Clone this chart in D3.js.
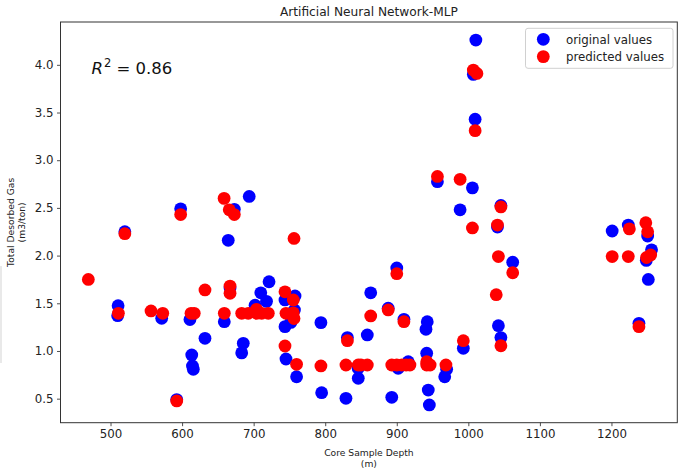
<!DOCTYPE html>
<html>
<head>
<meta charset="utf-8">
<script src="https://cdn.jsdelivr.net/npm/d3@7"></script>
<style>
  html, body { margin: 0; padding: 0; background: #fff; }
  svg { display: block; font-family: "DejaVu Sans", sans-serif; }
</style>
</head>
<body>
<svg id="chart" width="679" height="470"></svg>
<script>
// Measured core samples: depth (m) and total desorbed gas (m3/ton)
const originalDepth = [510.6, 510, 520, 571.5, 592.5, 598, 611, 613.5, 614.5, 615.7,
  632, 659, 664.5, 667, 673, 683.3, 685.5, 693.8, 702, 710,
  718, 721.5, 743.8, 743.8, 745.2, 752, 757, 757.8, 760, 794,
  795, 829, 831, 846.2, 846, 858.8, 863.6, 888, 893, 900,
  902, 910, 916, 940.8, 942.6, 941.8, 944, 945.5, 956.8, 967,
  969.7, 988.5, 993, 1005.7, 1007, 1009.5, 1010.5, 1040.7, 1042, 1045.5,
  1045.5, 1062, 1201, 1223.5, 1238.4, 1248.7, 1250.6, 1251.5, 1256];
const originalValue = [1.475, 1.37, 2.25, 1.343, 0.49, 2.49, 1.33, 0.958, 0.843, 0.808,
  1.133, 1.307, 2.16, 1.66, 2.485, 0.98, 1.08, 2.62, 1.48, 1.61,
  1.52, 1.726, 1.535, 1.255, 0.916, 1.30, 1.43, 1.577, 0.73, 1.297,
  0.563, 0.504, 1.14, 0.714, 0.82, 1.168, 1.61, 1.448, 0.514, 1.87,
  0.818, 1.332, 0.888, 1.227, 1.307, 0.976, 0.59, 0.434, 2.775, 0.73,
  0.808, 2.48, 1.028, 2.71, 3.90, 3.43, 4.26, 2.30, 1.265, 1.14,
  2.525, 1.93, 2.258, 2.32, 1.29, 1.95, 2.205, 1.75, 2.06];

// MLP predictions for the same samples
const predictedDepth = [469, 511, 520, 556.6, 573, 592.5, 598, 612.5, 617, 632,
  658.7, 659, 665.9, 667, 667, 673, 683.3, 692.5, 704.2, 704,
  711.2, 720.5, 743.8, 745.2, 743.8, 755.4, 755.4, 756.4, 756.4, 760,
  794, 829, 831, 846.2, 850, 858.8, 863.6, 888, 893, 900,
  900, 907, 910, 913, 918.4, 941.8, 941.8, 946.6, 956.8, 968.7,
  988.5, 993, 1005.7, 1007, 1012, 1009.5, 1039, 1040.7, 1042, 1045.5,
  1045.5, 1062, 1201, 1223.5, 1225, 1238.4, 1248, 1250.6, 1249, 1254.8];
const predictedValue = [1.75, 1.395, 2.23, 1.42, 1.395, 0.476, 2.43, 1.395, 1.395, 1.64,
  2.60, 1.395, 2.48, 1.68, 1.605, 2.43, 1.395, 1.395, 1.395, 1.437,
  1.395, 1.395, 1.62, 1.395, 1.052, 1.535, 1.40, 1.34, 2.18, 0.86,
  0.843, 0.853, 1.108, 0.853, 0.853, 0.853, 1.367, 1.43, 0.853, 1.81,
  0.853, 0.853, 1.307, 0.853, 0.853, 0.853, 0.888, 0.853, 2.83, 0.853,
  2.80, 1.108, 2.29, 3.945, 3.91, 3.31, 1.59, 2.32, 1.99, 2.51,
  1.055, 1.82, 1.99, 1.99, 2.28, 1.255, 2.345, 2.25, 1.98, 2.006];

const xTicks = [500, 600, 700, 800, 900, 1000, 1100, 1200];
const yTicks = [0.5, 1.0, 1.5, 2.0, 2.5, 3.0, 3.5, 4.0];
const seriesNames = ["original values", "predicted values"];
const seriesColors = ["#0000ff", "#ff0000"];
const r2Value = "0.86";

const svg = d3.select("#chart");
const W = 679, H = 470;
const margin = { top: 22, right: 1.7, bottom: 47.3, left: 60.5 };
const iw = W - margin.left - margin.right;
const ih = H - margin.top - margin.bottom;

const x = d3.scaleLinear().domain([430.1, 1292]).range([margin.left, margin.left + iw]);
const y = d3.scaleLinear().domain([0.248, 4.449]).range([margin.top + ih, margin.top]);

// faint mark along the left page edge
svg.append("line")
  .attr("x1", 1).attr("x2", 1).attr("y1", 266).attr("y2", 363)
  .attr("stroke", "#e2e2e2").attr("stroke-width", 1.5);

// points: originals first, predictions drawn on top
const pts = svg.append("g");
pts.selectAll("circle.orig")
  .data(d3.range(originalDepth.length))
  .join("circle")
  .attr("class", "orig")
  .attr("cx", i => x(originalDepth[i]))
  .attr("cy", i => y(originalValue[i]))
  .attr("r", 6.4)
  .attr("fill", seriesColors[0]);
pts.selectAll("circle.pred")
  .data(d3.range(predictedDepth.length))
  .join("circle")
  .attr("class", "pred")
  .attr("cx", i => x(predictedDepth[i]))
  .attr("cy", i => y(predictedValue[i]))
  .attr("r", 6.4)
  .attr("fill", seriesColors[1]);

// axes
const tickColor = "#222";
const xAxis = svg.append("g")
  .attr("transform", `translate(0,${margin.top + ih})`)
  .call(d3.axisBottom(x).tickValues(xTicks).tickSize(3.5).tickPadding(3.5).tickFormat(d3.format("d")));
const yAxis = svg.append("g")
  .attr("transform", `translate(${margin.left},0)`)
  .call(d3.axisLeft(y).tickValues(yTicks).tickSize(3.5).tickPadding(3.5).tickFormat(d3.format(".1f")));
[xAxis, yAxis].forEach(g => {
  g.select(".domain").remove();
  g.selectAll(".tick line").attr("stroke", tickColor).attr("stroke-width", 0.8);
  g.selectAll(".tick text")
    .attr("fill", tickColor)
    .style("font-family", "'DejaVu Sans', sans-serif")
    .style("font-size", "11.8px");
});

// frame
svg.append("rect")
  .attr("x", margin.left).attr("y", margin.top)
  .attr("width", iw).attr("height", ih)
  .attr("fill", "none").attr("stroke", "#333").attr("stroke-width", 1);

// title
svg.append("text")
  .attr("x", margin.left + iw / 2).attr("y", 16)
  .attr("text-anchor", "middle")
  .attr("fill", "#222")
  .style("font-size", "12.2px")
  .text("Artificial Neural Network-MLP");

// x label (two lines)
const xl = svg.append("text")
  .attr("text-anchor", "middle")
  .attr("fill", "#222")
  .style("font-size", "9.2px");
xl.append("tspan").attr("x", margin.left + iw / 2).attr("y", 456).text("Core Sample Depth");
xl.append("tspan").attr("x", margin.left + iw / 2).attr("y", 467).text("(m)");

// y label (two lines, rotated)
const cy = margin.top + ih / 2;
const yl = svg.append("text")
  .attr("transform", `translate(0,${cy}) rotate(-90)`)
  .attr("text-anchor", "middle")
  .attr("fill", "#222")
  .style("font-size", "9.2px");
yl.append("tspan").attr("x", 0).attr("y", 14.3).text("Total Desorbed Gas");
yl.append("tspan").attr("x", 0).attr("y", 25).text("(m3/ton)");

// R² annotation
const r2 = svg.append("text")
  .attr("x", 91.5).attr("y", 74)
  .attr("fill", "#111")
  .style("font-size", "16.5px");
r2.append("tspan").style("font-style", "italic").text("R");
r2.append("tspan").attr("dy", -7).attr("dx", 1).style("font-size", "11.5px").text("2");
r2.append("tspan").attr("dy", 7).text(" = " + r2Value);

// legend
const lg = svg.append("g");
lg.append("rect")
  .attr("x", 525.5).attr("y", 28.3)
  .attr("width", 147.5).attr("height", 40)
  .attr("rx", 2.5)
  .attr("fill", "#fff").attr("fill-opacity", 0.8)
  .attr("stroke", "#d0d0d0").attr("stroke-width", 1);
seriesNames.forEach((name, i) => {
  const ly = 39.3 + i * 17.3;
  lg.append("circle").attr("cx", 543.3).attr("cy", ly).attr("r", 6.4).attr("fill", seriesColors[i]);
  lg.append("text")
    .attr("x", 566).attr("y", ly + 4.2)
    .attr("fill", "#222")
    .style("font-size", "11.8px")
    .text(name);
});
</script>
</body>
</html>
